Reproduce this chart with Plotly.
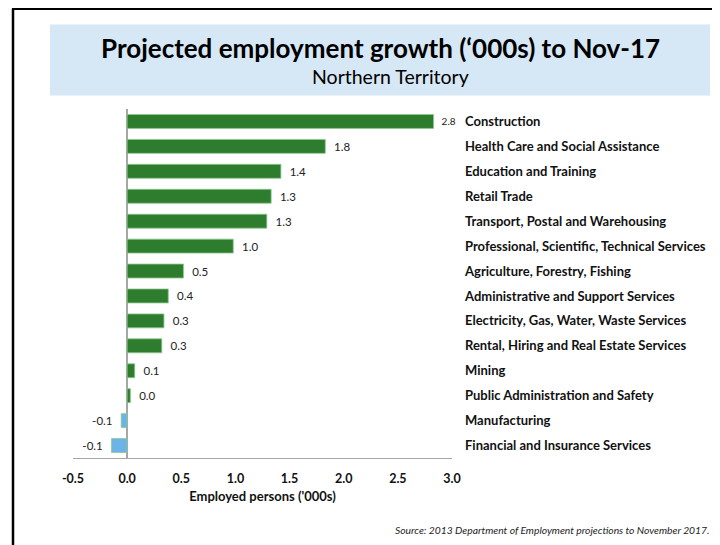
import plotly.graph_objects as go

categories = [
    "Construction",
    "Health Care and Social Assistance",
    "Education and Training",
    "Retail Trade",
    "Transport, Postal and Warehousing",
    "Professional, Scientific, Technical Services",
    "Agriculture, Forestry, Fishing",
    "Administrative and Support Services",
    "Electricity, Gas, Water, Waste Services",
    "Rental, Hiring and Real Estate Services",
    "Mining",
    "Public Administration and Safety",
    "Manufacturing",
    "Financial and Insurance Services",
]
values = [2.83, 1.83, 1.42, 1.33, 1.29, 0.98, 0.52, 0.38, 0.34, 0.32, 0.07, 0.03, -0.055, -0.145]
value_labels = ["2.8", "1.8", "1.4", "1.3", "1.3", "1.0", "0.5", "0.4", "0.3", "0.3", "0.1", "0.0", "-0.1", "-0.1"]
x_ticks = [-0.5, 0.0, 0.5, 1.0, 1.5, 2.0, 2.5, 3.0]
x_tick_labels = ["-0.5", "0.0", "0.5", "1.0", "1.5", "2.0", "2.5", "3.0"]

# page body has an 8px margin: work in window coordinates and shift
OFF = 8
W, H = 720 - OFF, 545 - OFF
PL, PR, PT, PB = 73, 452, 108.5, 458  # plot area in window coords
L, T = PL - OFF, PT - OFF
PW, PH = PR - PL, PB - PT
R, B = W - L - PW, H - T - PH

def px(x):
    return (x - PL) / PW

def py(y):
    return 1 - (y - PT) / PH

FONT = "Lato"
GREEN = "#2E7D2E"
BLUE = "#6CB4E8"
colors = [GREEN if v >= 0 else BLUE for v in values]
text_sizes = [10] + [11.5] * (len(values) - 1)
# pad labels away from bar ends
padded = [("\u2002" + t) if v >= 0 else (t + "\u2002") for t, v in zip(value_labels, values)]

fig = go.Figure(go.Bar(
    x=values, y=categories, orientation="h",
    marker=dict(color=colors, line=dict(color="#8FC98F", width=0.8)),
    text=padded, textposition="outside", cliponaxis=False,
    textfont=dict(family=FONT, size=text_sizes, color="#222222"),
    width=0.56,
))

fig.update_layout(
    width=W, height=H,
    margin=dict(l=L, r=R, t=T, b=B, autoexpand=False),
    paper_bgcolor="white", plot_bgcolor="white",
    showlegend=False,
    font=dict(family=FONT, color="#111111"),
    xaxis=dict(
        range=[-0.5, 3.0], tickvals=x_ticks, ticktext=x_tick_labels,
        showgrid=False, zeroline=True, zerolinecolor="#A6A6A6", zerolinewidth=1.5,
        showline=True, linecolor="#A6A6A6", linewidth=1,
        ticks="", tickfont=dict(family=FONT, size=12.5, color="#111111", weight="bold"),
        ticklabelstandoff=9,
        title=dict(text="Employed persons ('000s)", font=dict(family=FONT, size=13, color="#111111", weight="bold"), standoff=6),
    ),
    yaxis=dict(
        autorange="reversed", side="right", showgrid=False, zeroline=False, showline=False,
        ticks="", tickfont=dict(family=FONT, size=13, color="#111111", weight="bold"),
        ticklabelstandoff=12,
    ),
    shapes=[
        dict(type="rect", xref="paper", yref="paper", x0=px(50), x1=px(710), y0=py(95), y1=py(24),
             fillcolor="#D6E8F5", line=dict(width=0), layer="below"),
        dict(type="line", xref="paper", yref="paper", x0=px(12), x1=px(725), y0=py(8), y1=py(8),
             line=dict(color="black", width=2.5)),
        dict(type="line", xref="paper", yref="paper", x0=px(13), x1=px(13), y0=py(8), y1=py(550),
             line=dict(color="black", width=2.5)),
    ],
    annotations=[
        dict(text="<b>Projected employment growth (‘000s) to Nov-17</b>", xref="paper", yref="paper",
             x=px(380), y=py(47.5), xanchor="center", yanchor="middle", showarrow=False,
             font=dict(family=FONT, size=26, color="black")),
        dict(text="Northern Territory", xref="paper", yref="paper",
             x=px(390), y=py(76), xanchor="center", yanchor="middle", showarrow=False,
             font=dict(family=FONT, size=19.5, color="black")),
        dict(text="<i>Source: 2013 Department of Employment projections to November 2017.</i>", xref="paper", yref="paper",
             x=px(711), y=py(530), xanchor="right", yanchor="middle", showarrow=False,
             font=dict(family=FONT, size=10.3, color="#222222")),
    ],
)

fig.write_html("out.html")
